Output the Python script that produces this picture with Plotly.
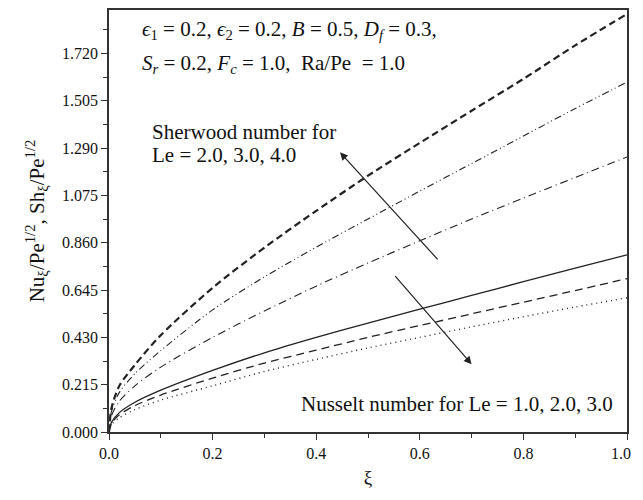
import plotly.graph_objects as go

xi = [0.0, 0.005, 0.02, 0.05, 0.1, 0.2, 0.3, 0.4, 0.5, 0.6, 0.7, 0.8, 0.9, 1.0]

sh_le4 = [0.0, 0.11, 0.21, 0.305, 0.44, 0.655, 0.838, 1.005, 1.165, 1.314, 1.46, 1.605, 1.757, 1.90]
sh_le3 = [0.0, 0.095, 0.18, 0.265, 0.37, 0.555, 0.705, 0.84, 0.968, 1.095, 1.22, 1.345, 1.47, 1.59]
sh_le2 = [0.0, 0.075, 0.14, 0.21, 0.295, 0.43, 0.55, 0.663, 0.768, 0.869, 0.968, 1.063, 1.157, 1.25]
nu_le1 = [0.0, 0.045, 0.088, 0.135, 0.19, 0.28, 0.36, 0.43, 0.495, 0.558, 0.621, 0.683, 0.745, 0.805]
nu_le2 = [0.0, 0.04, 0.078, 0.12, 0.168, 0.245, 0.313, 0.372, 0.43, 0.484, 0.537, 0.59, 0.643, 0.697]
nu_le3 = [0.0, 0.034, 0.065, 0.102, 0.145, 0.21, 0.275, 0.33, 0.382, 0.43, 0.478, 0.524, 0.568, 0.61]

y_ticks = [0.0, 0.215, 0.430, 0.645, 0.860, 1.075, 1.290, 1.505, 1.720]
y_tick_text = ["0.000", "0.215", "0.430", "0.645", "0.860", "1.075", "1.290", "1.505", "1.720"]
x_ticks = [0.0, 0.2, 0.4, 0.6, 0.8, 1.0]
x_tick_text = ["0.0", "0.2", "0.4", "0.6", "0.8", "1.0\u00a0\u00a0\u00a0"]

FONT = "Liberation Serif, Times New Roman, serif"
C = "#222222"

series = [
    (sh_le4, dict(color=C, width=2.2, dash="7px,4px")),
    (sh_le3, dict(color=C, width=1.1, dash="7px,3px,1px,3px,1px,3px")),
    (sh_le2, dict(color=C, width=1.1, dash="8px,4px,1px,4px")),
    (nu_le1, dict(color=C, width=1.3)),
    (nu_le2, dict(color=C, width=1.3, dash="8px,5px")),
    (nu_le3, dict(color=C, width=1.4, dash="1px,4px")),
]

fig = go.Figure()
for ys, ln in series:
    fig.add_trace(go.Scatter(x=xi, y=ys, mode="lines", line=ln, showlegend=False,
                             line_shape="spline", line_smoothing=0.8))

fig.update_layout(
    width=635, height=484,
    margin=dict(l=101, r=14, t=0, b=60),
    paper_bgcolor="white", plot_bgcolor="white",
    font=dict(family=FONT, size=16, color="#111"),
)
fig.update_xaxes(
    range=[0, 1], tickvals=x_ticks, ticktext=x_tick_text, ticklabeloverflow="allow",
    showgrid=False, zeroline=False, showline=True, linecolor="#333", linewidth=1.5,
    mirror=True, ticks="outside", ticklen=6, tickcolor="#333",
    minor=dict(dtick=0.1, ticks="outside", ticklen=4, tickcolor="#333"),
    title=dict(text="ξ", font=dict(size=19, family=FONT), standoff=10),
)
fig.update_yaxes(
    range=[0, 1.918], tickvals=y_ticks, ticktext=y_tick_text,
    showgrid=False, zeroline=False, showline=True, linecolor="#333", linewidth=1.5,
    mirror=True, ticks="outside", ticklen=6, tickcolor="#333",
    minor=dict(tickvals=[0.1075 + 0.215 * i for i in range(9)], ticks="outside", ticklen=4, tickcolor="#333"),
    title=dict(text="Nu<sub>ξ</sub>/Pe<sup>1/2</sup>, Sh<sub>ξ</sub>/Pe<sup>1/2</sup>",
               font=dict(size=21, family=FONT), standoff=12),
)

ann_font = dict(family=FONT, size=21, color="#111")
fig.add_annotation(x=0.06, y=1.828, xref="x", yref="y", xanchor="left", yanchor="middle",
                   text="<i>ϵ</i><sub>1</sub> = 0.2, <i>ϵ</i><sub>2</sub> = 0.2, <i>B</i> = 0.5, <i>D<sub>f</sub></i> = 0.3,",
                   showarrow=False, font=ann_font)
fig.add_annotation(x=0.06, y=1.673, xref="x", yref="y", xanchor="left", yanchor="middle",
                   text="<i>S<sub>r</sub></i> = 0.2, <i>F<sub>c</sub></i> = 1.0,  Ra/Pe  = 1.0",
                   showarrow=False, font=ann_font)
fig.add_annotation(x=0.079, y=1.365, xref="x", yref="y", xanchor="left", yanchor="middle",
                   text="Sherwood number for",
                   showarrow=False, font=ann_font)
fig.add_annotation(x=0.079, y=1.261, xref="x", yref="y", xanchor="left", yanchor="middle",
                   text="Le = 2.0, 3.0, 4.0",
                   showarrow=False, font=ann_font)
fig.add_annotation(x=0.367, y=0.127, xref="x", yref="y", xanchor="left", yanchor="middle",
                   text="Nusselt number for Le = 1.0, 2.0, 3.0",
                   showarrow=False, font=ann_font)

fig.add_annotation(x=0.446, y=1.271, ax=0.637, ay=0.778, xref="x", yref="y", axref="x", ayref="y",
                   text="", showarrow=True, arrowhead=2, arrowsize=1.3, arrowwidth=1.2, arrowcolor="#222")
fig.add_annotation(x=0.70, y=0.308, ax=0.55, ay=0.715, xref="x", yref="y", axref="x", ayref="y",
                   text="", showarrow=True, arrowhead=2, arrowsize=1.3, arrowwidth=1.2, arrowcolor="#222")

fig.write_html("out.html")
